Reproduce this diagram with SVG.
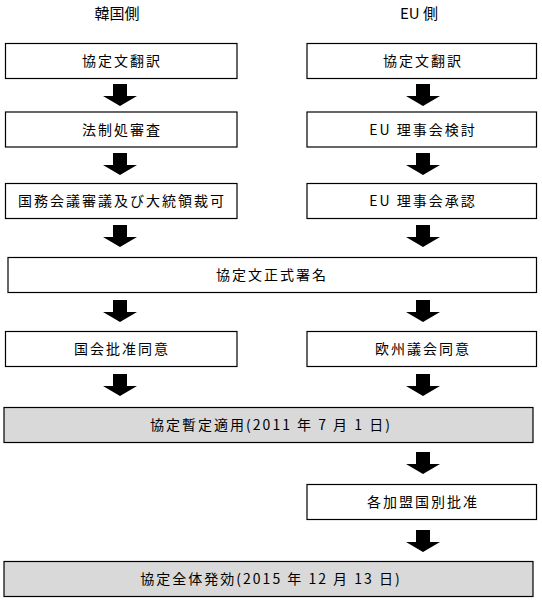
<svg xmlns="http://www.w3.org/2000/svg" xmlns:xlink="http://www.w3.org/1999/xlink" width="542" height="604" viewBox="0 0 542 604">
<style>
.box{fill:#ffffff;stroke:#000000;stroke-width:1.2}
.gray{fill:#d9d9d9;stroke:#000000;stroke-width:1.2}
.t{font-family:"Noto Sans CJK JP","Liberation Sans",sans-serif;font-size:14px;fill:#000;text-anchor:middle;letter-spacing:2px}
.h{font-family:"Noto Sans CJK JP","Liberation Sans",sans-serif;font-size:15px;fill:#000;text-anchor:middle}
</style>
<defs>
<path id="arr" d="M-7,0 H7 V12 H17 L0,22 L-17,12 H-7 Z" fill="#000"/>
</defs>
<rect width="542" height="604" fill="#fff"/>
<g id="headers">
<text class="h" x="117" y="19">韓国側</text>
<text class="h" x="419" y="19">EU 側</text>
</g>
<g id="connectors">
<use xlink:href="#arr" x="120" y="84"/>
<use xlink:href="#arr" x="423" y="84"/>
<use xlink:href="#arr" x="120" y="153"/>
<use xlink:href="#arr" x="423" y="153"/>
<use xlink:href="#arr" x="120" y="225"/>
<use xlink:href="#arr" x="423" y="225"/>
<use xlink:href="#arr" x="120" y="300"/>
<use xlink:href="#arr" x="423" y="300"/>
<use xlink:href="#arr" x="120" y="374"/>
<use xlink:href="#arr" x="423" y="374"/>
<use xlink:href="#arr" x="423" y="452"/>
<use xlink:href="#arr" x="423" y="530"/>
</g>
<g id="k1"><rect class="box" x="5.5" y="43.5" width="231.5" height="35"/><text class="t" x="122" y="66">協定文翻訳</text></g>
<g id="e1"><rect class="box" x="307" y="43.5" width="229.5" height="35"/><text class="t" x="423" y="66">協定文翻訳</text></g>
<g id="k2"><rect class="box" x="5.5" y="112" width="231.5" height="35"/><text class="t" x="122" y="134.5">法制処審査</text></g>
<g id="e2"><rect class="box" x="307" y="112" width="229.5" height="35"/><text class="t" x="423" y="134.5">EU 理事会検討</text></g>
<g id="k3"><rect class="box" x="5.5" y="183.5" width="231.5" height="35"/><text class="t" x="122" y="206">国務会議審議及び大統領裁可</text></g>
<g id="e3"><rect class="box" x="307" y="183.5" width="229.5" height="35"/><text class="t" x="423" y="206">EU 理事会承認</text></g>
<g id="sign"><rect class="box" x="8" y="257.5" width="528.5" height="35"/><text class="t" x="272" y="280">協定文正式署名</text></g>
<g id="k4"><rect class="box" x="5.5" y="331.5" width="231.5" height="35"/><text class="t" x="122" y="354">国会批准同意</text></g>
<g id="e4"><rect class="box" x="307" y="331.5" width="229.5" height="35"/><text class="t" x="423" y="354">欧州議会同意</text></g>
<g id="prov"><rect class="gray" x="4" y="407.5" width="529" height="35"/><text class="t" x="271" y="430">協定暫定適用(2011 年 7 月 1 日)</text></g>
<g id="e5"><rect class="box" x="307" y="484.5" width="229.5" height="35"/><text class="t" x="423" y="507">各加盟国別批准</text></g>
<g id="full"><rect class="gray" x="4" y="561.5" width="529" height="35"/><text class="t" x="271" y="584">協定全体発効(2015 年 12 月 13 日)</text></g>
</svg>
